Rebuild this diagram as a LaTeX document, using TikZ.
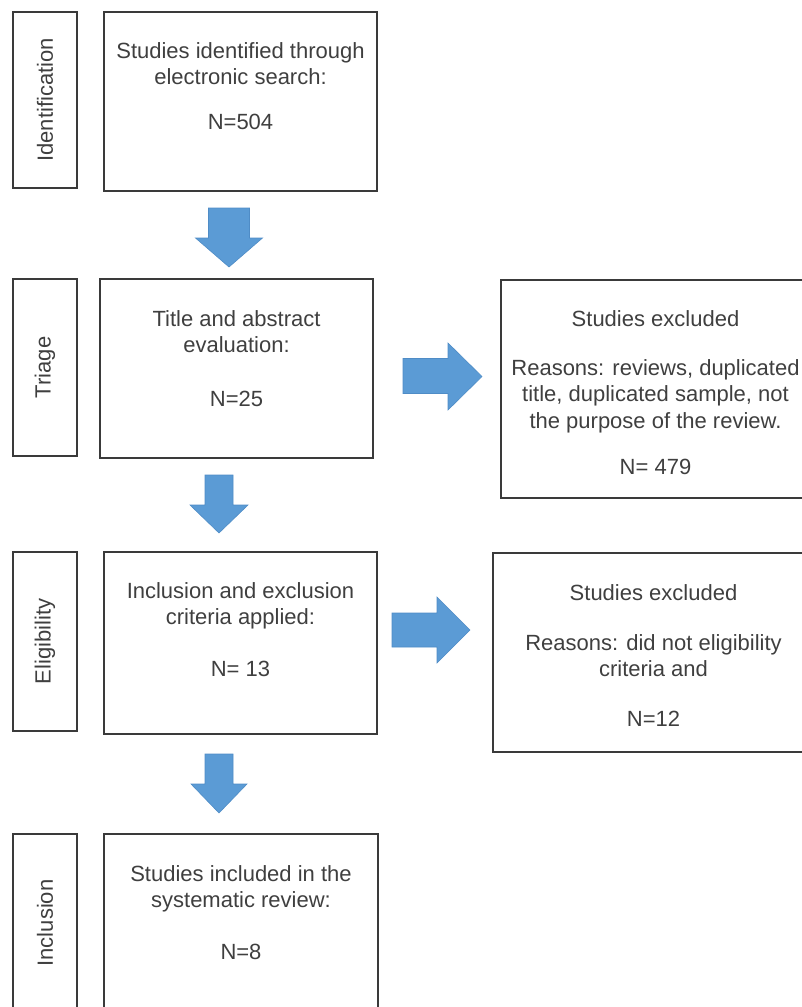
\documentclass[tikz,border=0pt]{standalone}
\usepackage{fontspec}
\setmainfont{Liberation Sans}
\definecolor{txt}{HTML}{3F3F3F}
\definecolor{frame}{HTML}{3A3A3A}
\definecolor{arrowblue}{HTML}{5B9BD5}
\definecolor{arrowedge}{HTML}{4F8CC6}
\begin{document}
\begin{tikzpicture}[x=1pt,y=-1pt,
  box/.style={draw=frame, line width=1.8pt, inner sep=0pt},
  lblbox/.style={box, rotate=90, text=txt, font=\fontsize{22}{26.5}\selectfont},
  txtnode/.style={text=txt, font=\fontsize{22}{26.5}\selectfont, align=center, inner sep=0pt, anchor=north},
  blockarrow/.style={fill=arrowblue, draw=arrowedge, line width=0.6pt, line join=miter}
]
\useasboundingbox (0,0) rectangle (802,1007);
\clip (0,0) rectangle (802,1007);

% stage labels
\node[lblbox, minimum width=176pt, minimum height=64pt] (L1) at (45,100) {Identification};
\node[lblbox, minimum width=177pt, minimum height=64pt] (L2) at (45,367.5) {Triage};
\node[lblbox, minimum width=179pt, minimum height=64pt] (L3) at (45,641.5) {Eligibility};
\node[lblbox, minimum width=178pt, minimum height=64pt] (L4) at (45,923) {Inclusion};

% main boxes
\node[box, minimum width=273pt, minimum height=179pt] (B1) at (240.5,101.5) {};
\node[box, minimum width=273pt, minimum height=179pt] (B2) at (236.5,368.5) {};
\node[box, minimum width=273pt, minimum height=182pt] (B3) at (240.5,643) {};
\node[box, minimum width=274pt, minimum height=178pt] (B4) at (241,923) {};
\node[box, minimum width=309pt, minimum height=218pt] (R1) at (655.5,389) {};
\node[box, minimum width=321pt, minimum height=199pt] (R2) at (653.5,652.5) {};

% texts
\node[txtnode] (t1) at (240.5,42) {Studies identified through\\electronic search:\\[18.5pt]N=504};
\node[txtnode] (t2) at (236.5,310) {Title and abstract\\evaluation:\\[27.5pt]N=25};
\node[txtnode] (t3) at (240.5,582) {Inclusion and exclusion\\criteria applied:\\[25.5pt]N= 13};
\node[txtnode] (t4) at (241,865) {Studies included in the\\systematic review:\\[25.5pt]N=8};
\node[txtnode] (tr1) at (655.5,310) {Studies excluded\\[22.5pt]Reasons: reviews, duplicated\\title, duplicated sample, not\\the purpose of the review.\\[19.5pt]N= 479};
\node[txtnode] (tr2) at (653.5,584) {Studies excluded\\[23.5pt]Reasons: did not eligibility\\criteria and\\[23.5pt]N=12};

% block arrows (down)
\draw[blockarrow] (208.5,208) -- (249.5,208) -- (249.5,238) -- (262.5,238) -- (229,267) -- (195.5,238) -- (208.5,238) -- cycle;
\draw[blockarrow] (205,475) -- (233,475) -- (233,505) -- (248,505) -- (219,533) -- (190,505) -- (205,505) -- cycle;
\draw[blockarrow] (205,754) -- (233,754) -- (233,784) -- (247,784) -- (219,813) -- (191,784) -- (205,784) -- cycle;
% block arrows (right)
\draw[blockarrow] (403,358.5) -- (448,358.5) -- (448,343) -- (482,376.5) -- (448,410) -- (448,393.5) -- (403,393.5) -- cycle;
\draw[blockarrow] (392,613) -- (437,613) -- (437,597) -- (470,630) -- (437,663) -- (437,647) -- (392,647) -- cycle;
\end{tikzpicture}
\end{document}
